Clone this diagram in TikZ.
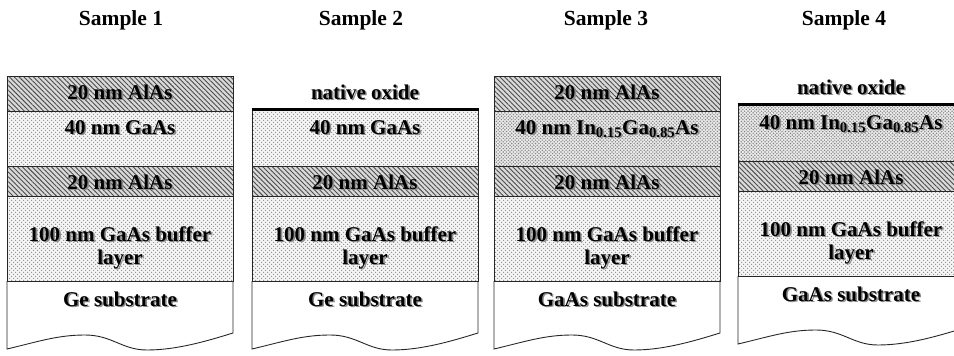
\documentclass[tikz,border=0pt]{standalone}
\usepackage{fontspec}
\setmainfont{Liberation Serif}
\usetikzlibrary{patterns.meta}

% label with a soft grey drop shadow
\newcommand\shlabel[3]{%
  \node[lbl,text=black!45] at ([xshift=1.6pt,yshift=-1.6pt]#2) {#3};
  \node[lbl] (#1) at (#2) {#3};}

\tikzset{
  edge/.style={draw=black!85,line width=0.9pt},
  hatchlayer/.style={fill=gray!30,
    postaction={pattern={Lines[angle=-45,distance=3.4pt,line width=0.9pt]},pattern color=black!70}},
  dotlayer/.style={fill=gray!8,
    postaction={pattern={Dots[distance=4pt,radius=0.85pt]},pattern color=gray!90},
    postaction={pattern={Dots[distance=4pt,radius=0.85pt,xshift=2pt,yshift=2pt]},pattern color=gray!90}},
  ingaaslayer/.style={fill=gray!16,
    postaction={pattern={Dots[distance=3.4pt,radius=0.8pt]},pattern color=gray!95},
    postaction={pattern={Dots[distance=3.4pt,radius=0.8pt,xshift=1.7pt,yshift=1.7pt]},pattern color=gray!95}},
  oxide/.style={line width=3pt,black},
  lbl/.style={anchor=base,inner sep=0pt,font=\fontsize{21}{25}\selectfont\bfseries},
  ttl/.style={anchor=base,inner sep=0pt,font=\fontsize{21.5}{25}\selectfont\bfseries},
}

\begin{document}
\begin{tikzpicture}[x=1pt,y=-1pt]
\useasboundingbox (0,0) rectangle (954,356);
\clip (0,0) rectangle (954,356);

% sample titles
\node[ttl] (t1) at (121,25) {Sample 1};
\node[ttl] (t2) at (361,25) {Sample 2};
\node[ttl] (t3) at (606,25) {Sample 3};
\node[ttl] (t4) at (844,25) {Sample 4};

% ---------- Sample 1 ----------
\begin{scope}[shift={(7,0)}]
  \path[hatchlayer] (0,76) rectangle (226,111);
  \path[dotlayer] (0,111) rectangle (226,166);
  \path[hatchlayer] (0,166) rectangle (226,196);
  \path[dotlayer] (0,196) rectangle (226,281);
  \draw[edge,fill=white] (0,281) -- (0,349)
    .. controls (30,342) and (50,335) .. (78,335)
    .. controls (105,335) and (115,350) .. (140,350)
    .. controls (170,350) and (200,341) .. (226,333) -- (226,281);
  \draw[edge] (0,76) rectangle (226,281);
  \draw[edge] (0,111) -- (226,111) (0,166) -- (226,166) (0,196) -- (226,196);
  \shlabel{s1a}{113,99}{20 nm AlAs}
  \shlabel{s1b}{113,134}{40 nm GaAs}
  \shlabel{s1c}{113,189}{20 nm AlAs}
  \shlabel{s1d}{113,241}{100 nm GaAs buffer}
  \shlabel{s1e}{113,264}{layer}
  \shlabel{s1f}{113,306}{Ge substrate}
\end{scope}

% ---------- Sample 2 ----------
\begin{scope}[shift={(252,0)}]
  \path[dotlayer] (0,109) rectangle (226,166);
  \path[hatchlayer] (0,166) rectangle (226,196);
  \path[dotlayer] (0,196) rectangle (226,281);
  \draw[edge,fill=white] (0,281) -- (0,349)
    .. controls (30,342) and (50,335) .. (78,335)
    .. controls (105,335) and (115,350) .. (140,350)
    .. controls (170,350) and (200,341) .. (226,333) -- (226,281);
  \draw[edge] (0,109) rectangle (226,281);
  \draw[edge] (0,166) -- (226,166) (0,196) -- (226,196);
  \draw[oxide] (-0.5,109) -- (226.5,109);
  \shlabel{s2o}{113,99}{native oxide}
  \shlabel{s2b}{113,134}{40 nm GaAs}
  \shlabel{s2c}{113,189}{20 nm AlAs}
  \shlabel{s2d}{113,241}{100 nm GaAs buffer}
  \shlabel{s2e}{113,264}{layer}
  \shlabel{s2f}{113,306}{Ge substrate}
\end{scope}

% ---------- Sample 3 ----------
\begin{scope}[shift={(494,0)}]
  \path[hatchlayer] (0,76) rectangle (226,111);
  \path[ingaaslayer] (0,111) rectangle (226,166);
  \path[hatchlayer] (0,166) rectangle (226,196);
  \path[dotlayer] (0,196) rectangle (226,281);
  \draw[edge,fill=white] (0,281) -- (0,349)
    .. controls (30,342) and (50,335) .. (78,335)
    .. controls (105,335) and (115,350) .. (140,350)
    .. controls (170,350) and (200,341) .. (226,333) -- (226,281);
  \draw[edge] (0,76) rectangle (226,281);
  \draw[edge] (0,111) -- (226,111) (0,166) -- (226,166) (0,196) -- (226,196);
  \shlabel{s3a}{113,99}{20 nm AlAs}
  \shlabel{s3b}{113,134}{40 nm In\textsubscript{0.15}Ga\textsubscript{0.85}As}
  \shlabel{s3c}{113,189}{20 nm AlAs}
  \shlabel{s3d}{113,241}{100 nm GaAs buffer}
  \shlabel{s3e}{113,264}{layer}
  \shlabel{s3f}{113,306}{GaAs substrate}
\end{scope}

% ---------- Sample 4 (drawn slightly higher) ----------
\begin{scope}[shift={(738,-5)}]
  \path[ingaaslayer] (0,109) rectangle (226,166);
  \path[hatchlayer] (0,166) rectangle (226,196);
  \path[dotlayer] (0,196) rectangle (226,281);
  \draw[edge,fill=white] (0,281) -- (0,349)
    .. controls (30,342) and (50,335) .. (78,335)
    .. controls (105,335) and (115,350) .. (140,350)
    .. controls (170,350) and (200,341) .. (226,333) -- (226,281);
  \draw[edge] (0,109) rectangle (226,281);
  \draw[edge] (0,166) -- (226,166) (0,196) -- (226,196);
  \draw[oxide] (-0.5,109) -- (226.5,109);
  \shlabel{s4o}{113,99}{native oxide}
  \shlabel{s4b}{113,134}{40 nm In\textsubscript{0.15}Ga\textsubscript{0.85}As}
  \shlabel{s4c}{113,189}{20 nm AlAs}
  \shlabel{s4d}{113,241}{100 nm GaAs buffer}
  \shlabel{s4e}{113,264}{layer}
  \shlabel{s4f}{113,306}{GaAs substrate}
\end{scope}
\end{tikzpicture}
\end{document}
